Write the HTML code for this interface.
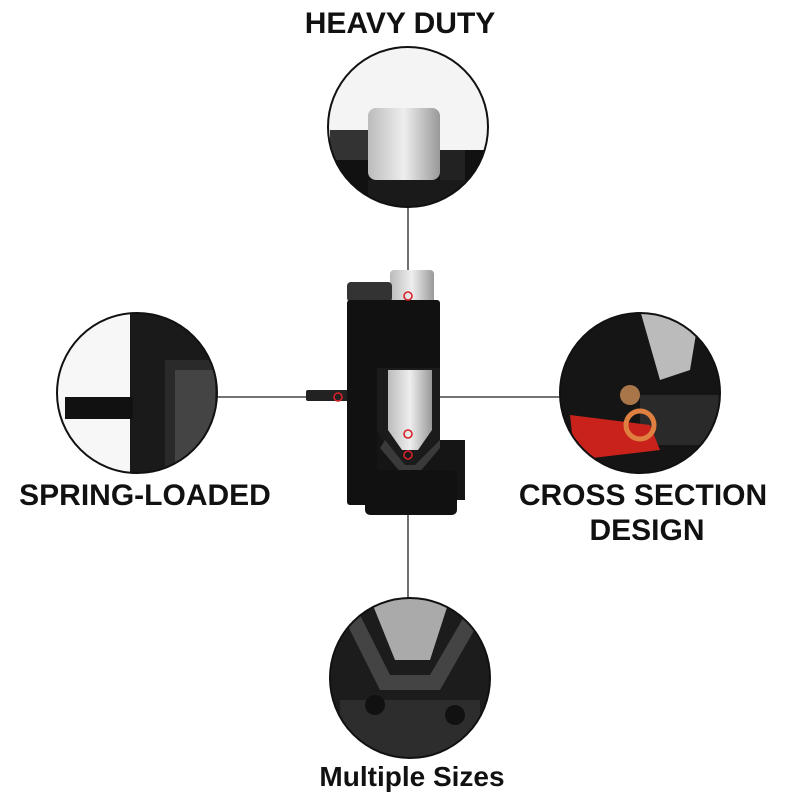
<!DOCTYPE html>
<html><head><style>
body{margin:0;background:#fff;width:800px;height:800px;overflow:hidden}
svg{display:block}
text{font-family:"Liberation Sans",sans-serif;font-weight:bold;fill:#111}
</style></head><body>
<svg width="800" height="800" viewBox="0 0 800 800">
<defs>
<clipPath id="ct"><circle cx="408" cy="127" r="80"/></clipPath>
<clipPath id="cl"><circle cx="137" cy="393" r="80"/></clipPath>
<clipPath id="cr"><circle cx="640" cy="393" r="80"/></clipPath>
<clipPath id="cb"><circle cx="410" cy="678" r="80"/></clipPath>
<linearGradient id="sil" x1="0" x2="1"><stop offset="0" stop-color="#bbb"/><stop offset=".5" stop-color="#eee"/><stop offset="1" stop-color="#999"/></linearGradient>
</defs>
<g stroke="#222" stroke-width="1.3" fill="none">
<line x1="408" y1="207" x2="408" y2="296"/>
<line x1="217" y1="397" x2="338" y2="397"/>
<polyline points="560,397 408,397 408,434"/>
<line x1="408" y1="455" x2="408" y2="598"/>
</g>
<g clip-path="url(#ct)">
<rect x="320" y="40" width="180" height="180" fill="#f4f4f4"/>
<rect x="320" y="150" width="180" height="70" fill="#111"/>
<rect x="330" y="130" width="40" height="30" fill="#333"/>
<rect x="440" y="150" width="25" height="30" fill="#222"/>
<rect x="368" y="108" width="72" height="72" rx="8" fill="url(#sil)"/>
<rect x="368" y="180" width="100" height="40" fill="#1a1a1a"/>
</g>
<circle cx="408" cy="127" r="80" fill="none" stroke="#111" stroke-width="2"/>
<g clip-path="url(#cl)">
<rect x="50" y="310" width="180" height="170" fill="#f7f7f7"/>
<rect x="130" y="310" width="100" height="170" fill="#1a1a1a"/>
<rect x="165" y="360" width="55" height="120" fill="#2a2a2a"/>
<rect x="175" y="370" width="40" height="100" fill="#444"/>
<rect x="65" y="397" width="68" height="22" fill="#111"/>
</g>
<circle cx="137" cy="393" r="80" fill="none" stroke="#111" stroke-width="2"/>
<g clip-path="url(#cr)">
<rect x="555" y="310" width="170" height="170" fill="#151515"/>
<polygon points="640,310 700,310 690,370 660,380" fill="#bbb"/>
<rect x="640" y="395" width="80" height="50" fill="#2a2a2a"/>
<polygon points="570,415 650,425 660,450 575,460" fill="#c8221b"/>
<circle cx="640" cy="425" r="14" fill="none" stroke="#e08040" stroke-width="5"/>
<circle cx="630" cy="395" r="10" fill="#e8a060" opacity=".7"/>
</g>
<circle cx="640" cy="393" r="80" fill="none" stroke="#111" stroke-width="2"/>
<g clip-path="url(#cb)">
<rect x="325" y="595" width="170" height="170" fill="#1c1c1c"/>
<polygon points="370,598 450,598 430,660 395,660" fill="#aaa"/>
<polygon points="345,620 380,690 440,690 480,620 465,615 430,675 390,675 360,615" fill="#444"/>
<rect x="340" y="700" width="140" height="60" fill="#2d2d2d"/>
<circle cx="375" cy="705" r="10" fill="#111"/>
<circle cx="455" cy="715" r="10" fill="#111"/>
</g>
<circle cx="410" cy="678" r="80" fill="none" stroke="#111" stroke-width="2"/>
<!-- tool -->
<rect x="306" y="390" width="44" height="11" rx="2" fill="#222"/>
<rect x="390" y="270" width="44" height="45" rx="4" fill="url(#sil)"/>
<rect x="347" y="282" width="45" height="20" rx="4" fill="#333"/>
<rect x="347" y="300" width="93" height="205" rx="3" fill="#111"/>
<rect x="377" y="368" width="63" height="135" fill="#1b1b1b"/>
<polygon points="388,370 432,370 432,430 418,450 402,450 388,430" fill="url(#sil)"/>
<polygon points="377,430 400,470 420,470 440,440 465,440 465,500 377,500" fill="#151515"/>
<polygon points="385,440 405,465 415,465 440,440 440,448 418,474 402,474 380,448" fill="#3a3a3a"/>
<rect x="365" y="470" width="92" height="45" rx="5" fill="#111"/>
<g fill="none" stroke="#d8222a" stroke-width="1.6">
<circle cx="408" cy="296" r="4"/><circle cx="338" cy="397" r="4"/><circle cx="408" cy="434" r="4"/><circle cx="408" cy="455" r="4"/>
</g>
<text x="400" y="33" font-size="30" text-anchor="middle">HEAVY DUTY</text>
<text x="145" y="505" font-size="30" text-anchor="middle">SPRING-LOADED</text>
<text x="643" y="505" font-size="30" text-anchor="middle">CROSS SECTION</text>
<text x="647" y="540" font-size="30" text-anchor="middle">DESIGN</text>
<text x="412" y="786" font-size="28" text-anchor="middle">Multiple Sizes</text>
</svg>
</body></html>
